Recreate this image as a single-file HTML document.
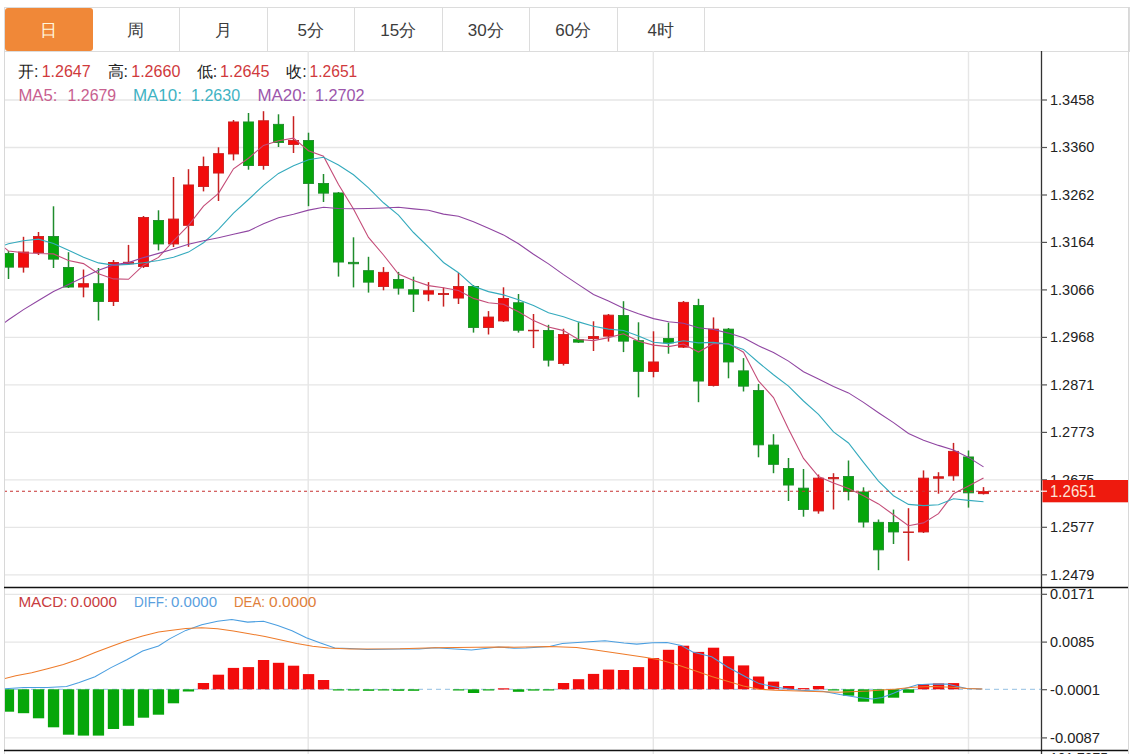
<!DOCTYPE html>
<html><head><meta charset="utf-8">
<style>
html,body{margin:0;padding:0;background:#fff;width:1136px;height:754px;overflow:hidden;}
body{position:relative;font-family:"Liberation Sans",sans-serif;}
.bar{position:absolute;left:4px;top:7px;width:1124px;height:43px;border:1px solid #dcdcdc;border-right:1px solid #dcdcdc;box-sizing:content-box;}
.tab{position:absolute;top:8px;width:87.5px;height:43px;line-height:46px;text-align:center;font-size:17px;color:#3c3c3c;box-sizing:border-box;border-right:1px solid #dcdcdc;}
.tab.act{background:#f08838;color:#fff6dc;border-radius:3px;border-right:none;}
svg{position:absolute;left:0;top:0;}
.ax{font-family:"Liberation Sans",sans-serif;font-size:15.4px;fill:#222;}
.axw{font-family:"Liberation Sans",sans-serif;font-size:15.6px;fill:#fde4d6;}
.lg{font-family:"Liberation Sans",sans-serif;font-size:16px;}
.lg2{font-family:"Liberation Sans",sans-serif;font-size:14px;}
</style></head><body>
<div class="bar"></div>
<div class="tab act" style="left:5.0px">日</div>
<div class="tab" style="left:92.5px">周</div>
<div class="tab" style="left:180.0px">月</div>
<div class="tab" style="left:267.5px">5分</div>
<div class="tab" style="left:355.0px">15分</div>
<div class="tab" style="left:442.5px">30分</div>
<div class="tab" style="left:530.0px">60分</div>
<div class="tab" style="left:617.5px">4时</div>
<svg width="1136" height="754" viewBox="0 0 1136 754">
<line x1="4" y1="100.0" x2="1041" y2="100.0" stroke="#e6e6e6" stroke-width="1.3"/>
<line x1="4" y1="147.5" x2="1041" y2="147.5" stroke="#e6e6e6" stroke-width="1.3"/>
<line x1="4" y1="195.0" x2="1041" y2="195.0" stroke="#e6e6e6" stroke-width="1.3"/>
<line x1="4" y1="242.4" x2="1041" y2="242.4" stroke="#e6e6e6" stroke-width="1.3"/>
<line x1="4" y1="289.9" x2="1041" y2="289.9" stroke="#e6e6e6" stroke-width="1.3"/>
<line x1="4" y1="337.4" x2="1041" y2="337.4" stroke="#e6e6e6" stroke-width="1.3"/>
<line x1="4" y1="384.9" x2="1041" y2="384.9" stroke="#e6e6e6" stroke-width="1.3"/>
<line x1="4" y1="432.4" x2="1041" y2="432.4" stroke="#e6e6e6" stroke-width="1.3"/>
<line x1="4" y1="479.8" x2="1041" y2="479.8" stroke="#e6e6e6" stroke-width="1.3"/>
<line x1="4" y1="527.3" x2="1041" y2="527.3" stroke="#e6e6e6" stroke-width="1.3"/>
<line x1="4" y1="574.8" x2="1041" y2="574.8" stroke="#e6e6e6" stroke-width="1.3"/>
<line x1="4" y1="594.3" x2="1041" y2="594.3" stroke="#e6e6e6" stroke-width="1.3"/>
<line x1="4" y1="642.1" x2="1041" y2="642.1" stroke="#e6e6e6" stroke-width="1.3"/>
<line x1="4" y1="737.8" x2="1041" y2="737.8" stroke="#e6e6e6" stroke-width="1.3"/>
<line x1="308.2" y1="51" x2="308.2" y2="754" stroke="#e6e6e6" stroke-width="1.4"/>
<line x1="653.3" y1="51" x2="653.3" y2="754" stroke="#e6e6e6" stroke-width="1.4"/>
<line x1="968.5" y1="51" x2="968.5" y2="754" stroke="#e6e6e6" stroke-width="1.4"/>
<defs><clipPath id="cp"><rect x="5" y="51" width="1036" height="700"/></clipPath></defs><g clip-path="url(#cp)">
<line x1="8.5" y1="251.0" x2="8.5" y2="279.0" stroke="#1f8c2c" stroke-width="1.5"/>
<rect x="3.45" y="253.45" width="10.1" height="13.70" fill="#06a60a" stroke="#1f8c2c" stroke-width="0.9"/>
<line x1="23.5" y1="236.8" x2="23.5" y2="272.6" stroke="#c82020" stroke-width="1.5"/>
<rect x="18.45" y="252.05" width="10.1" height="15.10" fill="#f20c0c" stroke="#c82020" stroke-width="0.9"/>
<line x1="38.5" y1="232.0" x2="38.5" y2="255.0" stroke="#c82020" stroke-width="1.5"/>
<rect x="33.45" y="236.45" width="10.1" height="16.10" fill="#f20c0c" stroke="#c82020" stroke-width="0.9"/>
<line x1="53.5" y1="206.3" x2="53.5" y2="268.0" stroke="#1f8c2c" stroke-width="1.5"/>
<rect x="48.45" y="236.45" width="10.1" height="22.70" fill="#06a60a" stroke="#1f8c2c" stroke-width="0.9"/>
<line x1="68.5" y1="252.2" x2="68.5" y2="288.0" stroke="#1f8c2c" stroke-width="1.5"/>
<rect x="63.45" y="267.45" width="10.1" height="19.60" fill="#06a60a" stroke="#1f8c2c" stroke-width="0.9"/>
<line x1="83.5" y1="269.5" x2="83.5" y2="297.3" stroke="#c82020" stroke-width="1.5"/>
<rect x="78.45" y="283.65" width="10.1" height="3.40" fill="#f20c0c" stroke="#c82020" stroke-width="0.9"/>
<line x1="98.5" y1="268.0" x2="98.5" y2="320.5" stroke="#1f8c2c" stroke-width="1.5"/>
<rect x="93.45" y="283.65" width="10.1" height="17.90" fill="#06a60a" stroke="#1f8c2c" stroke-width="0.9"/>
<line x1="113.5" y1="260.0" x2="113.5" y2="306.0" stroke="#c82020" stroke-width="1.5"/>
<rect x="108.45" y="262.45" width="10.1" height="39.10" fill="#f20c0c" stroke="#c82020" stroke-width="0.9"/>
<line x1="128.5" y1="244.9" x2="128.5" y2="265.0" stroke="#c82020" stroke-width="1.5"/>
<rect x="123.45" y="262.25" width="10.1" height="1.50" fill="#f20c0c" stroke="#c82020" stroke-width="0.9"/>
<line x1="143.5" y1="216.0" x2="143.5" y2="268.0" stroke="#c82020" stroke-width="1.5"/>
<rect x="138.45" y="217.45" width="10.1" height="49.10" fill="#f20c0c" stroke="#c82020" stroke-width="0.9"/>
<line x1="158.5" y1="210.3" x2="158.5" y2="250.4" stroke="#1f8c2c" stroke-width="1.5"/>
<rect x="153.45" y="220.45" width="10.1" height="23.50" fill="#06a60a" stroke="#1f8c2c" stroke-width="0.9"/>
<line x1="173.5" y1="177.0" x2="173.5" y2="247.0" stroke="#c82020" stroke-width="1.5"/>
<rect x="168.45" y="219.05" width="10.1" height="24.90" fill="#f20c0c" stroke="#c82020" stroke-width="0.9"/>
<line x1="188.5" y1="169.2" x2="188.5" y2="246.8" stroke="#c82020" stroke-width="1.5"/>
<rect x="183.45" y="184.95" width="10.1" height="40.40" fill="#f20c0c" stroke="#c82020" stroke-width="0.9"/>
<line x1="203.5" y1="156.6" x2="203.5" y2="191.4" stroke="#c82020" stroke-width="1.5"/>
<rect x="198.45" y="166.45" width="10.1" height="20.10" fill="#f20c0c" stroke="#c82020" stroke-width="0.9"/>
<line x1="218.5" y1="147.3" x2="218.5" y2="201.0" stroke="#c82020" stroke-width="1.5"/>
<rect x="213.45" y="153.65" width="10.1" height="19.40" fill="#f20c0c" stroke="#c82020" stroke-width="0.9"/>
<line x1="233.5" y1="120.0" x2="233.5" y2="160.4" stroke="#c82020" stroke-width="1.5"/>
<rect x="228.45" y="121.95" width="10.1" height="32.00" fill="#f20c0c" stroke="#c82020" stroke-width="0.9"/>
<line x1="248.5" y1="113.0" x2="248.5" y2="169.7" stroke="#1f8c2c" stroke-width="1.5"/>
<rect x="243.45" y="121.95" width="10.1" height="43.60" fill="#06a60a" stroke="#1f8c2c" stroke-width="0.9"/>
<line x1="263.5" y1="111.2" x2="263.5" y2="169.7" stroke="#c82020" stroke-width="1.5"/>
<rect x="258.45" y="120.75" width="10.1" height="44.80" fill="#f20c0c" stroke="#c82020" stroke-width="0.9"/>
<line x1="278.5" y1="114.3" x2="278.5" y2="147.0" stroke="#1f8c2c" stroke-width="1.5"/>
<rect x="273.45" y="124.35" width="10.1" height="18.20" fill="#06a60a" stroke="#1f8c2c" stroke-width="0.9"/>
<line x1="293.5" y1="116.2" x2="293.5" y2="153.0" stroke="#c82020" stroke-width="1.5"/>
<rect x="288.45" y="140.45" width="10.1" height="4.00" fill="#f20c0c" stroke="#c82020" stroke-width="0.9"/>
<line x1="308.5" y1="132.7" x2="308.5" y2="206.2" stroke="#1f8c2c" stroke-width="1.5"/>
<rect x="303.45" y="140.45" width="10.1" height="43.10" fill="#06a60a" stroke="#1f8c2c" stroke-width="0.9"/>
<line x1="323.5" y1="174.0" x2="323.5" y2="202.0" stroke="#1f8c2c" stroke-width="1.5"/>
<rect x="318.45" y="183.45" width="10.1" height="9.70" fill="#06a60a" stroke="#1f8c2c" stroke-width="0.9"/>
<line x1="338.5" y1="192.0" x2="338.5" y2="276.6" stroke="#1f8c2c" stroke-width="1.5"/>
<rect x="333.45" y="192.95" width="10.1" height="69.10" fill="#06a60a" stroke="#1f8c2c" stroke-width="0.9"/>
<line x1="353.5" y1="237.3" x2="353.5" y2="287.4" stroke="#1f8c2c" stroke-width="1.5"/>
<rect x="348.45" y="262.35" width="10.1" height="1.40" fill="#06a60a" stroke="#1f8c2c" stroke-width="0.9"/>
<line x1="368.5" y1="256.8" x2="368.5" y2="292.6" stroke="#1f8c2c" stroke-width="1.5"/>
<rect x="363.45" y="270.65" width="10.1" height="11.50" fill="#06a60a" stroke="#1f8c2c" stroke-width="0.9"/>
<line x1="383.5" y1="267.1" x2="383.5" y2="290.3" stroke="#c82020" stroke-width="1.5"/>
<rect x="378.45" y="272.35" width="10.1" height="14.20" fill="#f20c0c" stroke="#c82020" stroke-width="0.9"/>
<line x1="398.5" y1="271.9" x2="398.5" y2="294.6" stroke="#1f8c2c" stroke-width="1.5"/>
<rect x="393.45" y="279.45" width="10.1" height="8.70" fill="#06a60a" stroke="#1f8c2c" stroke-width="0.9"/>
<line x1="413.5" y1="276.7" x2="413.5" y2="312.0" stroke="#1f8c2c" stroke-width="1.5"/>
<rect x="408.45" y="289.75" width="10.1" height="4.40" fill="#06a60a" stroke="#1f8c2c" stroke-width="0.9"/>
<line x1="428.5" y1="282.1" x2="428.5" y2="301.2" stroke="#c82020" stroke-width="1.5"/>
<rect x="423.45" y="290.75" width="10.1" height="3.40" fill="#f20c0c" stroke="#c82020" stroke-width="0.9"/>
<line x1="443.5" y1="287.5" x2="443.5" y2="306.6" stroke="#c82020" stroke-width="1.5"/>
<rect x="438.45" y="293.45" width="10.1" height="1.10" fill="#f20c0c" stroke="#c82020" stroke-width="0.9"/>
<line x1="458.5" y1="273.0" x2="458.5" y2="304.0" stroke="#c82020" stroke-width="1.5"/>
<rect x="453.45" y="286.45" width="10.1" height="11.60" fill="#f20c0c" stroke="#c82020" stroke-width="0.9"/>
<line x1="473.5" y1="285.0" x2="473.5" y2="332.6" stroke="#1f8c2c" stroke-width="1.5"/>
<rect x="468.45" y="286.45" width="10.1" height="41.00" fill="#06a60a" stroke="#1f8c2c" stroke-width="0.9"/>
<line x1="488.5" y1="311.1" x2="488.5" y2="334.5" stroke="#c82020" stroke-width="1.5"/>
<rect x="483.45" y="317.05" width="10.1" height="10.40" fill="#f20c0c" stroke="#c82020" stroke-width="0.9"/>
<line x1="503.5" y1="287.3" x2="503.5" y2="322.0" stroke="#c82020" stroke-width="1.5"/>
<rect x="498.45" y="298.45" width="10.1" height="22.50" fill="#f20c0c" stroke="#c82020" stroke-width="0.9"/>
<line x1="518.5" y1="294.0" x2="518.5" y2="332.6" stroke="#1f8c2c" stroke-width="1.5"/>
<rect x="513.45" y="302.75" width="10.1" height="27.50" fill="#06a60a" stroke="#1f8c2c" stroke-width="0.9"/>
<line x1="533.5" y1="314.0" x2="533.5" y2="348.1" stroke="#c82020" stroke-width="1.5"/>
<rect x="528.45" y="330.25" width="10.1" height="0.60" fill="#f20c0c" stroke="#c82020" stroke-width="0.9"/>
<line x1="548.5" y1="324.8" x2="548.5" y2="366.5" stroke="#1f8c2c" stroke-width="1.5"/>
<rect x="543.45" y="330.45" width="10.1" height="29.70" fill="#06a60a" stroke="#1f8c2c" stroke-width="0.9"/>
<line x1="563.5" y1="328.7" x2="563.5" y2="365.5" stroke="#c82020" stroke-width="1.5"/>
<rect x="558.45" y="334.45" width="10.1" height="29.10" fill="#f20c0c" stroke="#c82020" stroke-width="0.9"/>
<line x1="578.5" y1="322.3" x2="578.5" y2="343.0" stroke="#1f8c2c" stroke-width="1.5"/>
<rect x="573.45" y="339.65" width="10.1" height="2.50" fill="#06a60a" stroke="#1f8c2c" stroke-width="0.9"/>
<line x1="593.5" y1="321.3" x2="593.5" y2="351.0" stroke="#c82020" stroke-width="1.5"/>
<rect x="588.45" y="336.45" width="10.1" height="2.10" fill="#f20c0c" stroke="#c82020" stroke-width="0.9"/>
<line x1="608.5" y1="314.0" x2="608.5" y2="341.6" stroke="#c82020" stroke-width="1.5"/>
<rect x="603.45" y="315.15" width="10.1" height="21.00" fill="#f20c0c" stroke="#c82020" stroke-width="0.9"/>
<line x1="623.5" y1="301.2" x2="623.5" y2="352.1" stroke="#1f8c2c" stroke-width="1.5"/>
<rect x="618.45" y="315.55" width="10.1" height="25.60" fill="#06a60a" stroke="#1f8c2c" stroke-width="0.9"/>
<line x1="638.5" y1="322.3" x2="638.5" y2="397.3" stroke="#1f8c2c" stroke-width="1.5"/>
<rect x="633.45" y="340.65" width="10.1" height="30.70" fill="#06a60a" stroke="#1f8c2c" stroke-width="0.9"/>
<line x1="653.5" y1="331.3" x2="653.5" y2="377.3" stroke="#c82020" stroke-width="1.5"/>
<rect x="648.45" y="361.95" width="10.1" height="9.50" fill="#f20c0c" stroke="#c82020" stroke-width="0.9"/>
<line x1="668.5" y1="322.6" x2="668.5" y2="353.7" stroke="#1f8c2c" stroke-width="1.5"/>
<rect x="663.45" y="338.55" width="10.1" height="4.30" fill="#06a60a" stroke="#1f8c2c" stroke-width="0.9"/>
<line x1="683.5" y1="301.0" x2="683.5" y2="348.0" stroke="#c82020" stroke-width="1.5"/>
<rect x="678.45" y="302.35" width="10.1" height="44.80" fill="#f20c0c" stroke="#c82020" stroke-width="0.9"/>
<line x1="698.5" y1="298.8" x2="698.5" y2="402.2" stroke="#1f8c2c" stroke-width="1.5"/>
<rect x="693.45" y="305.55" width="10.1" height="75.50" fill="#06a60a" stroke="#1f8c2c" stroke-width="0.9"/>
<line x1="713.5" y1="317.4" x2="713.5" y2="386.5" stroke="#c82020" stroke-width="1.5"/>
<rect x="708.45" y="329.15" width="10.1" height="56.40" fill="#f20c0c" stroke="#c82020" stroke-width="0.9"/>
<line x1="728.5" y1="328.0" x2="728.5" y2="378.3" stroke="#1f8c2c" stroke-width="1.5"/>
<rect x="723.45" y="329.15" width="10.1" height="32.80" fill="#06a60a" stroke="#1f8c2c" stroke-width="0.9"/>
<line x1="743.5" y1="358.1" x2="743.5" y2="391.5" stroke="#1f8c2c" stroke-width="1.5"/>
<rect x="738.45" y="370.85" width="10.1" height="15.30" fill="#06a60a" stroke="#1f8c2c" stroke-width="0.9"/>
<line x1="758.5" y1="383.9" x2="758.5" y2="457.3" stroke="#1f8c2c" stroke-width="1.5"/>
<rect x="753.45" y="390.55" width="10.1" height="54.30" fill="#06a60a" stroke="#1f8c2c" stroke-width="0.9"/>
<line x1="773.5" y1="434.2" x2="773.5" y2="473.2" stroke="#1f8c2c" stroke-width="1.5"/>
<rect x="768.45" y="445.05" width="10.1" height="19.30" fill="#06a60a" stroke="#1f8c2c" stroke-width="0.9"/>
<line x1="788.5" y1="458.0" x2="788.5" y2="501.0" stroke="#1f8c2c" stroke-width="1.5"/>
<rect x="783.45" y="468.45" width="10.1" height="16.60" fill="#06a60a" stroke="#1f8c2c" stroke-width="0.9"/>
<line x1="803.5" y1="469.0" x2="803.5" y2="516.7" stroke="#1f8c2c" stroke-width="1.5"/>
<rect x="798.45" y="488.15" width="10.1" height="21.30" fill="#06a60a" stroke="#1f8c2c" stroke-width="0.9"/>
<line x1="818.5" y1="474.5" x2="818.5" y2="513.7" stroke="#c82020" stroke-width="1.5"/>
<rect x="813.45" y="478.15" width="10.1" height="32.80" fill="#f20c0c" stroke="#c82020" stroke-width="0.9"/>
<line x1="833.5" y1="473.2" x2="833.5" y2="509.5" stroke="#c82020" stroke-width="1.5"/>
<rect x="828.45" y="477.45" width="10.1" height="1.30" fill="#f20c0c" stroke="#c82020" stroke-width="0.9"/>
<line x1="848.5" y1="460.5" x2="848.5" y2="500.4" stroke="#1f8c2c" stroke-width="1.5"/>
<rect x="843.45" y="476.45" width="10.1" height="15.00" fill="#06a60a" stroke="#1f8c2c" stroke-width="0.9"/>
<line x1="863.5" y1="487.3" x2="863.5" y2="527.5" stroke="#1f8c2c" stroke-width="1.5"/>
<rect x="858.45" y="491.95" width="10.1" height="30.10" fill="#06a60a" stroke="#1f8c2c" stroke-width="0.9"/>
<line x1="878.5" y1="519.5" x2="878.5" y2="570.2" stroke="#1f8c2c" stroke-width="1.5"/>
<rect x="873.45" y="522.35" width="10.1" height="27.50" fill="#06a60a" stroke="#1f8c2c" stroke-width="0.9"/>
<line x1="893.5" y1="509.6" x2="893.5" y2="544.0" stroke="#1f8c2c" stroke-width="1.5"/>
<rect x="888.45" y="522.55" width="10.1" height="9.40" fill="#06a60a" stroke="#1f8c2c" stroke-width="0.9"/>
<line x1="908.5" y1="508.2" x2="908.5" y2="560.7" stroke="#c82020" stroke-width="1.5"/>
<rect x="903.45" y="531.95" width="10.1" height="0.60" fill="#f20c0c" stroke="#c82020" stroke-width="0.9"/>
<line x1="923.5" y1="470.4" x2="923.5" y2="533.0" stroke="#c82020" stroke-width="1.5"/>
<rect x="918.45" y="478.15" width="10.1" height="53.80" fill="#f20c0c" stroke="#c82020" stroke-width="0.9"/>
<line x1="938.5" y1="472.2" x2="938.5" y2="493.7" stroke="#c82020" stroke-width="1.5"/>
<rect x="933.45" y="476.75" width="10.1" height="1.50" fill="#f20c0c" stroke="#c82020" stroke-width="0.9"/>
<line x1="953.5" y1="442.9" x2="953.5" y2="480.7" stroke="#c82020" stroke-width="1.5"/>
<rect x="948.45" y="451.35" width="10.1" height="24.50" fill="#f20c0c" stroke="#c82020" stroke-width="0.9"/>
<line x1="968.5" y1="450.5" x2="968.5" y2="507.6" stroke="#1f8c2c" stroke-width="1.5"/>
<rect x="963.45" y="456.95" width="10.1" height="35.90" fill="#06a60a" stroke="#1f8c2c" stroke-width="0.9"/>
<line x1="983.5" y1="487.1" x2="983.5" y2="494.5" stroke="#c82020" stroke-width="1.5"/>
<rect x="978.45" y="491.55" width="10.1" height="2.10" fill="#f20c0c" stroke="#c82020" stroke-width="0.9"/>
<path d="M4.4,247.6 L8.5,251.0 L23.5,252.7 L38.5,253.5 L53.5,253.9 L68.5,260.5 L83.5,263.6 L98.5,273.7 L113.5,278.9 L128.5,279.3 L143.5,265.2 L158.5,257.4 L173.5,240.8 L188.5,225.3 L203.5,206.1 L218.5,193.3 L233.5,168.8 L248.5,158.2 L263.5,145.4 L278.5,140.8 L293.5,138.2 L308.5,150.7 L323.5,156.2 L338.5,184.6 L353.5,208.9 L368.5,237.4 L383.5,255.0 L398.5,274.0 L413.5,280.4 L428.5,285.6 L443.5,287.7 L458.5,290.5 L473.5,298.4 L488.5,302.8 L503.5,304.3 L518.5,311.8 L533.5,320.6 L548.5,327.1 L563.5,330.6 L578.5,339.5 L593.5,340.6 L608.5,337.6 L623.5,333.8 L638.5,341.3 L653.5,345.1 L668.5,346.6 L683.5,344.0 L698.5,352.0 L713.5,343.4 L728.5,343.6 L743.5,352.2 L758.5,380.9 L773.5,397.6 L788.5,428.9 L803.5,458.4 L818.5,476.6 L833.5,483.0 L848.5,488.4 L863.5,495.8 L878.5,503.9 L893.5,514.8 L908.5,525.7 L923.5,522.9 L938.5,513.6 L953.5,493.8 L968.5,485.9 L983.5,477.9" fill="none" stroke="#c44c78" stroke-width="1.1"/>
<path d="M4.4,245.2 L8.5,243.7 L23.5,240.8 L38.5,239.1 L53.5,243.4 L68.5,250.2 L83.5,257.2 L98.5,262.9 L113.5,265.1 L128.5,264.4 L143.5,262.8 L158.5,260.5 L173.5,257.2 L188.5,252.1 L203.5,242.7 L218.5,229.3 L233.5,213.1 L248.5,199.5 L263.5,185.3 L278.5,173.4 L293.5,165.8 L308.5,159.7 L323.5,157.2 L338.5,165.0 L353.5,174.8 L368.5,187.8 L383.5,202.8 L398.5,215.1 L413.5,232.5 L428.5,247.2 L443.5,262.5 L458.5,272.7 L473.5,286.2 L488.5,291.6 L503.5,294.9 L518.5,299.8 L533.5,305.6 L548.5,312.8 L563.5,316.7 L578.5,321.9 L593.5,326.2 L608.5,329.1 L623.5,330.5 L638.5,336.0 L653.5,342.3 L668.5,343.6 L683.5,340.8 L698.5,342.9 L713.5,342.4 L728.5,344.3 L743.5,349.4 L758.5,362.5 L773.5,374.8 L788.5,386.1 L803.5,401.0 L818.5,414.4 L833.5,431.9 L848.5,443.0 L863.5,462.4 L878.5,481.1 L893.5,495.7 L908.5,504.4 L923.5,505.6 L938.5,504.7 L953.5,498.8 L968.5,500.4 L983.5,501.8" fill="none" stroke="#34aabd" stroke-width="1.1"/>
<path d="M4.4,322.8 L8.5,319.7 L23.5,309.6 L38.5,300.5 L53.5,291.6 L68.5,284.6 L83.5,277.3 L98.5,270.3 L113.5,264.9 L128.5,262.6 L143.5,257.6 L158.5,253.4 L173.5,249.0 L188.5,244.2 L203.5,240.8 L218.5,237.7 L233.5,234.3 L248.5,230.9 L263.5,223.7 L278.5,217.7 L293.5,214.3 L308.5,210.1 L323.5,207.2 L338.5,208.5 L353.5,208.8 L368.5,208.5 L383.5,208.0 L398.5,207.3 L413.5,208.9 L428.5,210.3 L443.5,214.1 L458.5,216.2 L473.5,221.7 L488.5,228.3 L503.5,234.9 L518.5,243.8 L533.5,254.2 L548.5,263.9 L563.5,274.6 L578.5,284.6 L593.5,294.4 L608.5,300.9 L623.5,308.3 L638.5,313.8 L653.5,318.6 L668.5,321.7 L683.5,323.2 L698.5,327.8 L713.5,329.5 L728.5,333.1 L743.5,337.8 L758.5,345.8 L773.5,352.6 L788.5,361.1 L803.5,371.7 L818.5,379.0 L833.5,386.4 L848.5,392.9 L863.5,402.4 L878.5,412.7 L893.5,422.6 L908.5,433.4 L923.5,440.2 L938.5,445.4 L953.5,449.9 L968.5,457.4 L983.5,466.9" fill="none" stroke="#9046a2" stroke-width="1.1"/>
<line x1="4" y1="491.2" x2="1041" y2="491.2" stroke="#c63232" stroke-width="1.1" stroke-dasharray="3,3"/>
<line x1="4" y1="689.3" x2="1041" y2="689.3" stroke="#a8cce8" stroke-width="1.2" stroke-dasharray="5,4"/>
<rect x="2.8" y="689.3" width="11.3" height="22.4" fill="#06a60a"/>
<rect x="17.9" y="689.3" width="11.3" height="23.9" fill="#06a60a"/>
<rect x="32.9" y="689.3" width="11.3" height="29.0" fill="#06a60a"/>
<rect x="47.9" y="689.3" width="11.3" height="38.0" fill="#06a60a"/>
<rect x="62.9" y="689.3" width="11.3" height="45.4" fill="#06a60a"/>
<rect x="77.8" y="689.3" width="11.3" height="46.3" fill="#06a60a"/>
<rect x="92.8" y="689.3" width="11.3" height="46.3" fill="#06a60a"/>
<rect x="107.8" y="689.3" width="11.3" height="39.7" fill="#06a60a"/>
<rect x="122.8" y="689.3" width="11.3" height="36.5" fill="#06a60a"/>
<rect x="137.8" y="689.3" width="11.3" height="28.4" fill="#06a60a"/>
<rect x="152.8" y="689.3" width="11.3" height="25.4" fill="#06a60a"/>
<rect x="167.8" y="689.3" width="11.3" height="14.0" fill="#06a60a"/>
<rect x="182.8" y="689.3" width="11.3" height="2.2" fill="#06a60a"/>
<rect x="197.8" y="683.0" width="11.3" height="6.3" fill="#f20c0c"/>
<rect x="212.8" y="674.7" width="11.3" height="14.6" fill="#f20c0c"/>
<rect x="227.8" y="667.9" width="11.3" height="21.4" fill="#f20c0c"/>
<rect x="242.8" y="667.1" width="11.3" height="22.2" fill="#f20c0c"/>
<rect x="257.9" y="660.0" width="11.3" height="29.3" fill="#f20c0c"/>
<rect x="272.9" y="662.8" width="11.3" height="26.5" fill="#f20c0c"/>
<rect x="287.9" y="665.7" width="11.3" height="23.6" fill="#f20c0c"/>
<rect x="302.9" y="674.1" width="11.3" height="15.2" fill="#f20c0c"/>
<rect x="317.9" y="680.0" width="11.3" height="9.3" fill="#f20c0c"/>
<rect x="332.9" y="689.3" width="11.3" height="1.2" fill="#06a60a"/>
<rect x="347.9" y="689.3" width="11.3" height="1.2" fill="#06a60a"/>
<rect x="362.9" y="689.3" width="11.3" height="1.5" fill="#06a60a"/>
<rect x="377.9" y="689.3" width="11.3" height="1.2" fill="#06a60a"/>
<rect x="392.9" y="689.3" width="11.3" height="1.5" fill="#06a60a"/>
<rect x="407.9" y="689.3" width="11.3" height="1.5" fill="#06a60a"/>
<rect x="452.9" y="689.3" width="11.3" height="1.2" fill="#06a60a"/>
<rect x="467.9" y="689.3" width="11.3" height="3.7" fill="#06a60a"/>
<rect x="482.9" y="689.3" width="11.3" height="1.2" fill="#06a60a"/>
<rect x="497.9" y="688.3" width="11.3" height="1.2" fill="#f20c0c"/>
<rect x="512.9" y="689.3" width="11.3" height="2.5" fill="#06a60a"/>
<rect x="527.9" y="689.3" width="11.3" height="1.3" fill="#06a60a"/>
<rect x="542.9" y="689.3" width="11.3" height="1.2" fill="#06a60a"/>
<rect x="557.9" y="683.0" width="11.3" height="6.3" fill="#f20c0c"/>
<rect x="572.9" y="679.2" width="11.3" height="10.1" fill="#f20c0c"/>
<rect x="587.9" y="673.9" width="11.3" height="15.4" fill="#f20c0c"/>
<rect x="602.9" y="669.6" width="11.3" height="19.7" fill="#f20c0c"/>
<rect x="617.9" y="670.0" width="11.3" height="19.3" fill="#f20c0c"/>
<rect x="632.9" y="667.1" width="11.3" height="22.2" fill="#f20c0c"/>
<rect x="647.9" y="658.1" width="11.3" height="31.2" fill="#f20c0c"/>
<rect x="662.9" y="649.8" width="11.3" height="39.5" fill="#f20c0c"/>
<rect x="677.9" y="645.7" width="11.3" height="43.6" fill="#f20c0c"/>
<rect x="692.9" y="651.9" width="11.3" height="37.4" fill="#f20c0c"/>
<rect x="707.9" y="647.7" width="11.3" height="41.6" fill="#f20c0c"/>
<rect x="722.9" y="656.2" width="11.3" height="33.1" fill="#f20c0c"/>
<rect x="737.9" y="665.4" width="11.3" height="23.9" fill="#f20c0c"/>
<rect x="752.9" y="676.5" width="11.3" height="12.8" fill="#f20c0c"/>
<rect x="767.9" y="681.6" width="11.3" height="7.7" fill="#f20c0c"/>
<rect x="782.9" y="686.0" width="11.3" height="3.3" fill="#f20c0c"/>
<rect x="797.9" y="688.1" width="11.3" height="1.2" fill="#f20c0c"/>
<rect x="812.9" y="686.0" width="11.3" height="3.3" fill="#f20c0c"/>
<rect x="827.9" y="689.3" width="11.3" height="1.2" fill="#06a60a"/>
<rect x="842.9" y="689.3" width="11.3" height="6.4" fill="#06a60a"/>
<rect x="857.9" y="689.3" width="11.3" height="12.4" fill="#06a60a"/>
<rect x="872.9" y="689.3" width="11.3" height="14.2" fill="#06a60a"/>
<rect x="887.9" y="689.3" width="11.3" height="8.4" fill="#06a60a"/>
<rect x="902.9" y="689.3" width="11.3" height="3.5" fill="#06a60a"/>
<rect x="917.9" y="684.1" width="11.3" height="5.2" fill="#f20c0c"/>
<rect x="932.9" y="683.4" width="11.3" height="5.9" fill="#f20c0c"/>
<rect x="947.9" y="683.1" width="11.3" height="6.2" fill="#f20c0c"/>
<path d="M4.4,688.7 L23.8,687.4 L47.5,687.4 L66.5,686.6 L79.2,682.6 L95.0,676.8 L111.0,667.6 L126.8,659.7 L142.6,651.0 L158.5,645.9 L170.0,638.6 L185.8,630.4 L201.7,624.8 L217.5,621.2 L231.8,619.6 L247.6,622.1 L263.5,621.2 L277.7,625.6 L292.0,630.7 L306.3,637.8 L320.5,643.0 L334.8,648.1 L350.0,648.6 L367.0,649.5 L400.0,649.0 L419.0,649.0 L435.0,647.8 L471.5,650.0 L498.5,647.0 L514.0,648.2 L525.8,648.1 L549.6,646.5 L562.3,643.5 L581.3,642.2 L605.0,640.7 L624.0,643.0 L636.8,644.1 L652.6,642.7 L666.9,642.6 L681.1,645.4 L692.7,651.9 L711.7,656.7 L727.5,667.0 L746.5,677.3 L759.2,683.6 L778.2,687.6 L798.8,690.3 L822.6,691.2 L840.0,694.6 L858.3,697.5 L872.4,698.9 L882.3,697.5 L893.5,693.2 L903.4,689.0 L917.5,684.8 L931.5,684.1 L947.0,684.1 L959.7,686.9 L966.8,688.6 L982.3,689.0" fill="none" stroke="#4a9ee0" stroke-width="1.05"/>
<path d="M4.4,678.7 L15.8,675.8 L31.7,672.8 L47.5,668.7 L63.4,664.4 L79.2,658.9 L95.0,652.5 L111.0,646.5 L126.8,640.7 L142.6,635.9 L158.5,631.9 L170.0,630.4 L185.8,628.5 L201.7,627.7 L217.5,628.8 L233.4,631.1 L249.2,633.8 L265.0,636.4 L281.0,639.9 L296.8,643.5 L312.6,646.2 L328.5,648.1 L350.0,648.9 L400.0,648.8 L435.0,647.8 L498.5,647.0 L514.0,647.2 L549.6,646.5 L576.5,647.5 L597.0,650.2 L621.0,653.8 L644.7,657.3 L660.5,660.1 L676.4,664.4 L695.8,671.0 L711.7,676.5 L727.5,681.3 L743.4,686.0 L759.2,689.2 L775.0,690.3 L806.8,691.2 L838.5,692.3 L868.2,691.1 L896.3,689.0 L913.2,687.2 L931.5,686.6 L952.7,687.2 L966.8,688.6 L982.3,689.0" fill="none" stroke="#ee7b2a" stroke-width="1.05"/>
</g>
<line x1="4.5" y1="51" x2="4.5" y2="754" stroke="#d8d8d8" stroke-width="1"/>
<line x1="1128.5" y1="7" x2="1128.5" y2="754" stroke="#d8d8d8" stroke-width="1"/>
<line x1="1041.5" y1="51" x2="1041.5" y2="754" stroke="#333" stroke-width="1.3"/>
<line x1="4" y1="587.5" x2="1128" y2="587.5" stroke="#111" stroke-width="1.6"/>
<line x1="4" y1="750.5" x2="1128" y2="750.5" stroke="#111" stroke-width="1.6"/>
<line x1="1041" y1="100.0" x2="1047" y2="100.0" stroke="#555" stroke-width="1.2"/>
<text x="1050" y="104.9" class="ax" textLength="44.3" lengthAdjust="spacingAndGlyphs">1.3458</text>
<line x1="1041" y1="147.5" x2="1047" y2="147.5" stroke="#555" stroke-width="1.2"/>
<text x="1050" y="152.4" class="ax" textLength="44.3" lengthAdjust="spacingAndGlyphs">1.3360</text>
<line x1="1041" y1="195.0" x2="1047" y2="195.0" stroke="#555" stroke-width="1.2"/>
<text x="1050" y="199.9" class="ax" textLength="44.3" lengthAdjust="spacingAndGlyphs">1.3262</text>
<line x1="1041" y1="242.4" x2="1047" y2="242.4" stroke="#555" stroke-width="1.2"/>
<text x="1050" y="247.3" class="ax" textLength="44.3" lengthAdjust="spacingAndGlyphs">1.3164</text>
<line x1="1041" y1="289.9" x2="1047" y2="289.9" stroke="#555" stroke-width="1.2"/>
<text x="1050" y="294.8" class="ax" textLength="44.3" lengthAdjust="spacingAndGlyphs">1.3066</text>
<line x1="1041" y1="337.4" x2="1047" y2="337.4" stroke="#555" stroke-width="1.2"/>
<text x="1050" y="342.3" class="ax" textLength="44.3" lengthAdjust="spacingAndGlyphs">1.2968</text>
<line x1="1041" y1="384.9" x2="1047" y2="384.9" stroke="#555" stroke-width="1.2"/>
<text x="1050" y="389.8" class="ax" textLength="44.3" lengthAdjust="spacingAndGlyphs">1.2871</text>
<line x1="1041" y1="432.4" x2="1047" y2="432.4" stroke="#555" stroke-width="1.2"/>
<text x="1050" y="437.3" class="ax" textLength="44.3" lengthAdjust="spacingAndGlyphs">1.2773</text>
<line x1="1041" y1="479.8" x2="1047" y2="479.8" stroke="#555" stroke-width="1.2"/>
<text x="1050" y="484.7" class="ax" textLength="44.3" lengthAdjust="spacingAndGlyphs">1.2675</text>
<line x1="1041" y1="527.3" x2="1047" y2="527.3" stroke="#555" stroke-width="1.2"/>
<text x="1050" y="532.2" class="ax" textLength="44.3" lengthAdjust="spacingAndGlyphs">1.2577</text>
<line x1="1041" y1="574.8" x2="1047" y2="574.8" stroke="#555" stroke-width="1.2"/>
<text x="1050" y="579.7" class="ax" textLength="44.3" lengthAdjust="spacingAndGlyphs">1.2479</text>
<line x1="1041" y1="594.3" x2="1047" y2="594.3" stroke="#555" stroke-width="1.2"/>
<text x="1050" y="599.2" class="ax" textLength="44.3" lengthAdjust="spacingAndGlyphs">0.0171</text>
<line x1="1041" y1="642.1" x2="1047" y2="642.1" stroke="#555" stroke-width="1.2"/>
<text x="1050" y="647.0" class="ax" textLength="44.3" lengthAdjust="spacingAndGlyphs">0.0085</text>
<line x1="1041" y1="689.7" x2="1047" y2="689.7" stroke="#555" stroke-width="1.2"/>
<text x="1050" y="694.6" class="ax" textLength="50.0" lengthAdjust="spacingAndGlyphs">-0.0001</text>
<line x1="1041" y1="737.9" x2="1047" y2="737.9" stroke="#555" stroke-width="1.2"/>
<text x="1050" y="742.8" class="ax" textLength="50.0" lengthAdjust="spacingAndGlyphs">-0.0087</text>
<text x="1050" y="762.8" class="ax" textLength="58" lengthAdjust="spacingAndGlyphs">101.7875</text>
<rect x="1042.5" y="480" width="85.5" height="22.3" fill="#ee1a0e"/>
<line x1="1041" y1="491.2" x2="1047" y2="491.2" stroke="#fff" stroke-width="1.2"/>
<text x="1050" y="496.8" class="axw" textLength="46" lengthAdjust="spacingAndGlyphs">1.2651</text>
<text x="17.9" y="77.3" class="lg" fill="#222">开:</text>
<text x="41.7" y="77.3" class="lg" fill="#d03a3c" textLength="49.0" lengthAdjust="spacingAndGlyphs">1.2647</text>
<text x="107.5" y="77.3" class="lg" fill="#222">高:</text>
<text x="131.2" y="77.3" class="lg" fill="#d03a3c" textLength="49.2" lengthAdjust="spacingAndGlyphs">1.2660</text>
<text x="196.7" y="77.3" class="lg" fill="#222">低:</text>
<text x="220.1" y="77.3" class="lg" fill="#d03a3c" textLength="49.4" lengthAdjust="spacingAndGlyphs">1.2645</text>
<text x="286.2" y="77.3" class="lg" fill="#222">收:</text>
<text x="309.6" y="77.3" class="lg" fill="#d03a3c" textLength="47.7" lengthAdjust="spacingAndGlyphs">1.2651</text>
<text x="18.4" y="100.7" class="lg" fill="#c8608f" textLength="39.0" lengthAdjust="spacingAndGlyphs">MA5:</text>
<text x="67.6" y="100.7" class="lg" fill="#c8608f" textLength="48.6" lengthAdjust="spacingAndGlyphs">1.2679</text>
<text x="132.9" y="100.7" class="lg" fill="#3fb3c3" textLength="49.0" lengthAdjust="spacingAndGlyphs">MA10:</text>
<text x="191.0" y="100.7" class="lg" fill="#3fb3c3" textLength="49.1" lengthAdjust="spacingAndGlyphs">1.2630</text>
<text x="257.4" y="100.7" class="lg" fill="#9c56ac" textLength="49.0" lengthAdjust="spacingAndGlyphs">MA20:</text>
<text x="315.0" y="100.7" class="lg" fill="#9c56ac" textLength="49.6" lengthAdjust="spacingAndGlyphs">1.2702</text>
<text x="18.4" y="606.6" class="lg2" fill="#c83c40" textLength="49.2" lengthAdjust="spacingAndGlyphs">MACD:</text>
<text x="70.6" y="606.6" class="lg2" fill="#c83c40" textLength="46.4" lengthAdjust="spacingAndGlyphs">0.0000</text>
<text x="134.0" y="606.6" class="lg2" fill="#5aa0de" textLength="33.7" lengthAdjust="spacingAndGlyphs">DIFF:</text>
<text x="171.0" y="606.6" class="lg2" fill="#5aa0de" textLength="46.0" lengthAdjust="spacingAndGlyphs">0.0000</text>
<text x="234.0" y="606.6" class="lg2" fill="#e0803a" textLength="31.0" lengthAdjust="spacingAndGlyphs">DEA:</text>
<text x="269.0" y="606.6" class="lg2" fill="#e0803a" textLength="47.5" lengthAdjust="spacingAndGlyphs">0.0000</text>
</svg>
</body></html>
